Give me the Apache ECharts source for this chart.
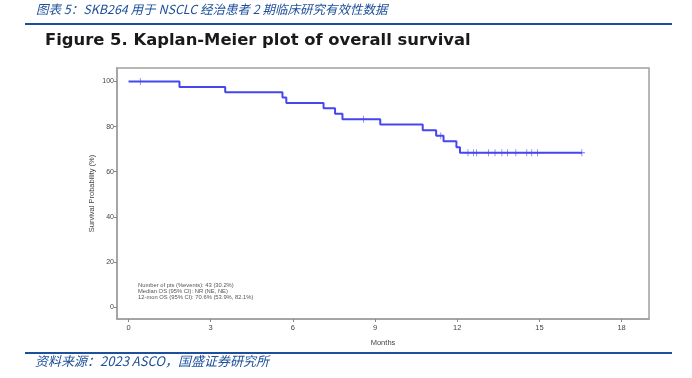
<!DOCTYPE html>
<html><head><meta charset="utf-8">
<script src="https://cdn.jsdelivr.net/npm/echarts@6/dist/echarts.min.js"></script>
<style>html,body{margin:0;padding:0;background:#fff}#c{width:692px;height:378px}</style>
</head><body><div id="c"></div>
<script>
// Kaplan-Meier step data (months, survival %)
const eventMonths = [0, 1.86, 3.53, 5.62, 5.76, 7.12, 7.54, 7.81, 9.19, 10.74, 11.23, 11.5, 11.97, 12.1, 16.55];
const survival    = [100, 97.6, 95.2, 92.9, 90.5, 88.1, 85.7, 83.3, 80.9, 78.4, 76.0, 73.5, 70.9, 68.4, 68.4];
// censored observations
const censorMonths = [0.43, 8.58, 11.4, 12.39, 12.59, 12.71, 13.14, 13.38, 13.63, 13.83, 14.14, 14.54, 14.72, 14.93, 16.55];
const censorSurv   = [100, 83.3, 76.0, 68.4, 68.4, 68.4, 68.4, 68.4, 68.4, 68.4, 68.4, 68.4, 68.4, 68.4, 68.4];
const xTicks = [0, 3, 6, 9, 12, 15, 18];
const yTicks = [0, 20, 40, 60, 80, 100];
const headerText = '图表 5：SKB264 用于 NSCLC 经治患者 2 期临床研究有效性数据';
const titleText = 'Figure 5. Kaplan-Meier plot of overall survival';
const sourceText = '资料来源：2023 ASCO，国盛证券研究所';
const noteLines = ['Number of pts (%events): 43 (30.2%)', 'Median OS (95% CI): NR (NE, NE)', '12-mon OS (95% CI): 70.6% (53.9%, 82.1%)'];

const blue = '#1d4f9a';
const chart = echarts.init(document.getElementById('c'), null, {renderer: 'canvas'});
const cjk = '"Noto Sans CJK SC", sans-serif';
const axisCommon = {
  splitLine: {show: false},
  nameMoveOverlap: false,
  axisLine: {show: true, onZero: false, lineStyle: {color: '#a0a0a0', width: 1.5}},
};
chart.setOption({
  animation: false,
  backgroundColor: '#fff',
  grid: {left: 117, top: 68, right: 43, bottom: 59, show: true, borderColor: '#a0a0a0', borderWidth: 1.5},
  xAxis: Object.assign({
    type: 'value', min: -0.42, max: 19.0,
    axisTick: {show: true, customValues: xTicks, length: 3, lineStyle: {color: '#888'}},
    axisLabel: {customValues: xTicks, color: '#444', fontSize: 7.5, fontFamily: 'Liberation Sans', margin: 5},
    name: 'Months', nameLocation: 'middle', nameGap: 20,
    nameTextStyle: {color: '#444', fontSize: 7.5, fontFamily: 'Liberation Sans'}
  }, axisCommon),
  yAxis: Object.assign({
    type: 'value', min: -5.3, max: 106,
    axisTick: {show: true, customValues: yTicks, length: 3, lineStyle: {color: '#888'}},
    axisLabel: {customValues: yTicks, color: '#444', fontSize: 7, fontFamily: 'Liberation Sans', margin: 3},
    name: 'Survival Probability (%)', nameLocation: 'middle', nameGap: 21, nameRotate: 90,
    nameTextStyle: {color: '#444', fontSize: 7.5, fontFamily: 'Liberation Sans'}
  }, axisCommon),
  series: [
    {
      type: 'line', step: 'end', showSymbol: false,
      data: eventMonths.map((m, i) => [m, survival[i]]),
      lineStyle: {color: '#4646ee', width: 2}
    },
    {
      type: 'scatter',
      symbol: 'path://M4.4,0H5.6V10H4.4Z M0,4.4H10V5.6H0Z',
      symbolSize: [6, 7],
      itemStyle: {color: '#4646ee', opacity: 0.8},
      data: censorMonths.map((m, i) => [m, censorSurv[i]])
    }
  ],
  graphic: [
    {type: 'text', left: 36, top: 3, style: {text: headerText, fill: blue, font: 'italic 12.5px ' + cjk}},
    {type: 'rect', shape: {x: 25, y: 23, width: 647, height: 2}, style: {fill: blue}},
    {type: 'text', left: 45, top: 33, style: {text: titleText, fill: '#1a1a1a', font: 'bold 16.4px "DejaVu Sans", sans-serif'}},
    {type: 'text', left: 138, top: 282, style: {text: noteLines.join('\n'), fill: '#555', font: '5.8px "Liberation Sans", sans-serif', lineHeight: 6.3}},
    {type: 'rect', shape: {x: 25, y: 352, width: 647, height: 2}, style: {fill: blue}},
    {type: 'text', left: 35, top: 355, style: {text: sourceText, fill: blue, font: 'italic 13px ' + cjk}}
  ]
});
</script></body></html>
